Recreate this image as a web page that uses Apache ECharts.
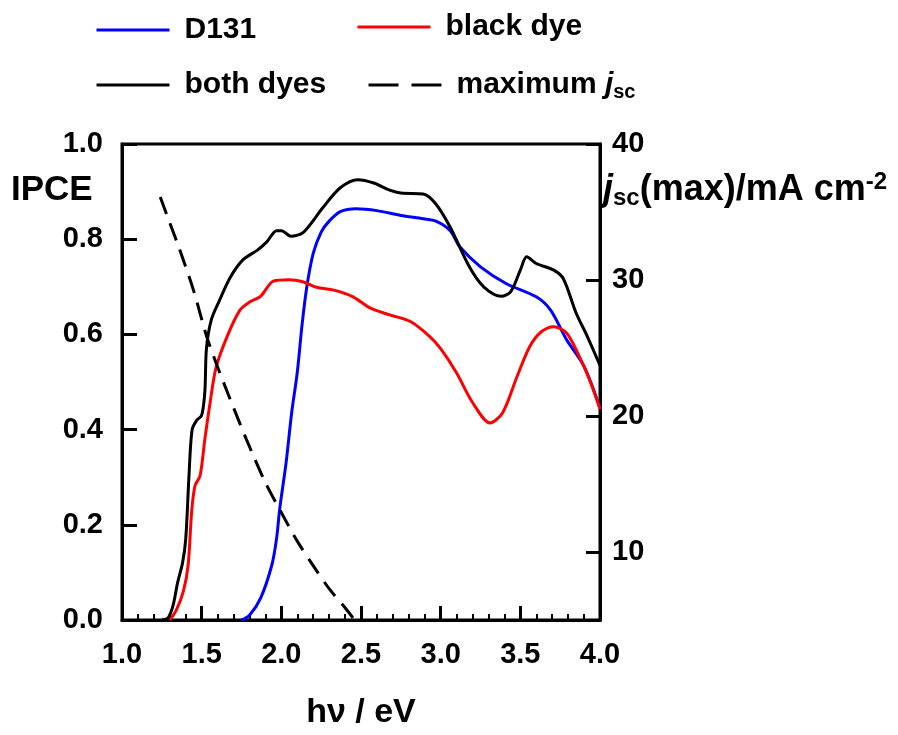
<!DOCTYPE html>
<html>
<head>
<meta charset="utf-8">
<script src="https://cdn.jsdelivr.net/npm/echarts@6/dist/echarts.min.js"></script>
<style>
  html, body { margin: 0; padding: 0; background: #fff; }
  #chart { width: 898px; height: 735px; }
</style>
</head>
<body>
<div id="chart"></div>
<script>
// IPCE curves, [photon energy eV, IPCE]
var d131 = [[1.75,0.0],[1.80,0.01],[1.87,0.046],[1.94,0.115],[1.97,0.171],[1.99,0.234],[2.03,0.331],[2.065,0.436],
  [2.10,0.52],[2.13,0.62],[2.16,0.70],[2.20,0.77],[2.25,0.815],[2.30,0.838],[2.37,0.858],[2.47,0.864],[2.60,0.86],
  [2.75,0.85],[2.89,0.843],[2.97,0.838],[3.06,0.818],[3.12,0.784],[3.25,0.742],[3.41,0.707],[3.60,0.679],
  [3.69,0.651],[3.79,0.589],[3.90,0.533],[4.0,0.445]];
var blackDye = [[1.30,0.0],[1.34,0.02],[1.385,0.06],[1.415,0.115],[1.437,0.227],[1.458,0.282],[1.49,0.303],
  [1.52,0.38],[1.55,0.45],[1.59,0.53],[1.66,0.596],[1.74,0.651],[1.80,0.668],[1.87,0.68],[1.95,0.712],
  [2.05,0.715],[2.14,0.71],[2.22,0.699],[2.33,0.693],[2.45,0.679],[2.56,0.655],[2.68,0.641],[2.81,0.627],
  [2.93,0.596],[3.00,0.57],[3.10,0.519],[3.20,0.457],[3.31,0.414],[3.39,0.436],[3.48,0.512],[3.56,0.575],
  [3.63,0.605],[3.71,0.616],[3.79,0.603],[3.87,0.554],[3.94,0.50],[4.0,0.443]];
var bothDyes = [[1.25,0.0],[1.29,0.005],[1.32,0.03],[1.35,0.08],[1.38,0.12],[1.40,0.17],[1.42,0.30],[1.44,0.40],
  [1.47,0.42],[1.50,0.43],[1.52,0.48],[1.53,0.57],[1.56,0.63],[1.61,0.67],[1.68,0.72],[1.76,0.757],[1.85,0.777],
  [1.91,0.795],[1.97,0.818],[2.00,0.818],[2.06,0.806],[2.14,0.815],[2.26,0.866],[2.37,0.908],[2.48,0.925],
  [2.58,0.918],[2.68,0.903],[2.75,0.897],[2.89,0.895],[2.97,0.874],[3.06,0.825],[3.18,0.742],[3.27,0.70],
  [3.38,0.68],[3.44,0.69],[3.50,0.735],[3.54,0.763],[3.60,0.749],[3.71,0.735],[3.77,0.717],[3.85,0.645],
  [3.92,0.596],[4.0,0.535]];
// maximum jsc, right axis, mA cm-2
var maxJsc = [[1.24,36.1],[1.30,34.2],[1.36,32.3],[1.45,29.2],[1.53,25.9],[1.60,23.6],[1.68,21.2],[1.78,18.3],
  [1.90,15.1],[2.00,12.9],[2.10,10.8],[2.20,9.0],[2.30,7.3],[2.40,5.9],[2.46,5.0]];
var jscTicks = [10, 20, 30, 40];

var FONT = '"Liberation Sans", Arial, sans-serif';
var legendRich = {
  i: { fontStyle: 'italic', fontWeight: 'bold', fontSize: 30, fontFamily: FONT, color: '#000' },
  sub: { fontWeight: 'bold', fontSize: 20, fontFamily: FONT, color: '#000', padding: [14, 0, 0, 0] },
  n: { fontWeight: 'bold', fontSize: 30, fontFamily: FONT, color: '#000' }
};
var axisRich = {
  i: { fontStyle: 'italic', fontWeight: 'bold', fontSize: 36, fontFamily: FONT, color: '#000' },
  sub: { fontWeight: 'bold', fontSize: 24, fontFamily: FONT, color: '#000', padding: [16, 0, 0, 0] },
  sup: { fontWeight: 'bold', fontSize: 24, fontFamily: FONT, color: '#000', padding: [0, 0, 16, 0] },
  n: { fontWeight: 'bold', fontSize: 36, fontFamily: FONT, color: '#000' }
};

function legendAt(name, left, top, dash) {
  return {
    data: [name], left: left, top: top, itemWidth: 73, itemHeight: 14, itemGap: 0,
    itemStyle: { opacity: 0 },
    lineStyle: { width: 3, type: dash || 'solid' },
    textStyle: { fontSize: 30, fontWeight: 'bold', fontFamily: FONT, color: '#000', padding: [0, 0, 0, 10], rich: legendRich },
    formatter: function (n) { return n === 'maximum jsc' ? '{n|maximum }{i|j}{sub|sc}' : n; }
  };
}

var chart = echarts.init(document.getElementById('chart'));
chart.setOption({
  animation: false,
  backgroundColor: '#fff',
  grid: { left: 122, right: 298, top: 144, bottom: 112, show: true, borderColor: '#000', borderWidth: 3 },
  legend: [
    legendAt('D131', 90, 10),
    legendAt('black dye', 351, 7),
    legendAt('both dyes', 90, 65),
    legendAt('maximum jsc', 362, 65, [30, 13])
  ],
  xAxis: {
    type: 'value', min: 1, max: 4, interval: 0.5,
    name: 'hν / eV', nameLocation: 'middle', nameGap: 76,
    nameTextStyle: { fontSize: 34, fontWeight: 'bold', fontFamily: FONT, color: '#000' },
    axisLine: { lineStyle: { color: '#000', width: 3 } },
    axisTick: { inside: true, length: 14, lineStyle: { color: '#000', width: 3 } },
    minorTick: { show: true, splitNumber: 5, length: 6, lineStyle: { color: '#000', width: 2 } },
    splitLine: { show: false },
    axisLabel: { margin: 20, fontSize: 29, fontWeight: 'bold', fontFamily: FONT, color: '#000',
      formatter: function (v) { return v.toFixed(1); } }
  },
  yAxis: [{
    type: 'value', min: 0, max: 1, interval: 0.2,
    axisLine: { show: true, lineStyle: { color: '#000', width: 3 } },
    axisTick: { show: true, inside: true, length: 15, lineStyle: { color: '#000', width: 3 } },
    splitLine: { show: false },
    axisLabel: { margin: 19, fontSize: 29, fontWeight: 'bold', fontFamily: FONT, color: '#000',
      formatter: function (v) { return v.toFixed(1); } }
  }, {
    type: 'value', min: 5, max: 40, position: 'right',
    axisLine: { show: true, lineStyle: { color: '#000', width: 3 } },
    axisTick: { show: true, inside: true, length: 14, customValues: jscTicks, lineStyle: { color: '#000', width: 3 } },
    splitLine: { show: false },
    axisLabel: { margin: 12, fontSize: 29, fontWeight: 'bold', fontFamily: FONT, color: '#000', customValues: jscTicks }
  }],
  graphic: [
    { type: 'text', left: 11, top: 173,
      style: { text: 'IPCE', font: 'bold 35px "Liberation Sans", Arial, sans-serif', fill: '#000' } },
    { type: 'text', left: 603, top: 170,
      style: { text: '{i|j}{sub|sc}{n|(max)/mA cm}{sup|-2}', rich: axisRich, fill: '#000' } }
  ],
  series: [
    { name: 'D131', type: 'line', data: d131, smooth: 0.3, symbol: 'none',
      lineStyle: { color: '#0000ff', width: 3 }, itemStyle: { color: '#0000ff' } },
    { name: 'black dye', type: 'line', data: blackDye, smooth: 0.3, symbol: 'none',
      lineStyle: { color: '#ff0000', width: 3 }, itemStyle: { color: '#ff0000' } },
    { name: 'both dyes', type: 'line', data: bothDyes, smooth: 0.3, symbol: 'none',
      lineStyle: { color: '#000', width: 3 }, itemStyle: { color: '#000' } },
    { name: 'maximum jsc', type: 'line', yAxisIndex: 1, data: maxJsc, smooth: 0.3, symbol: 'none',
      lineStyle: { color: '#000', width: 3, type: [18, 10] }, itemStyle: { color: '#000' } }
  ]
});
</script>
</body>
</html>
